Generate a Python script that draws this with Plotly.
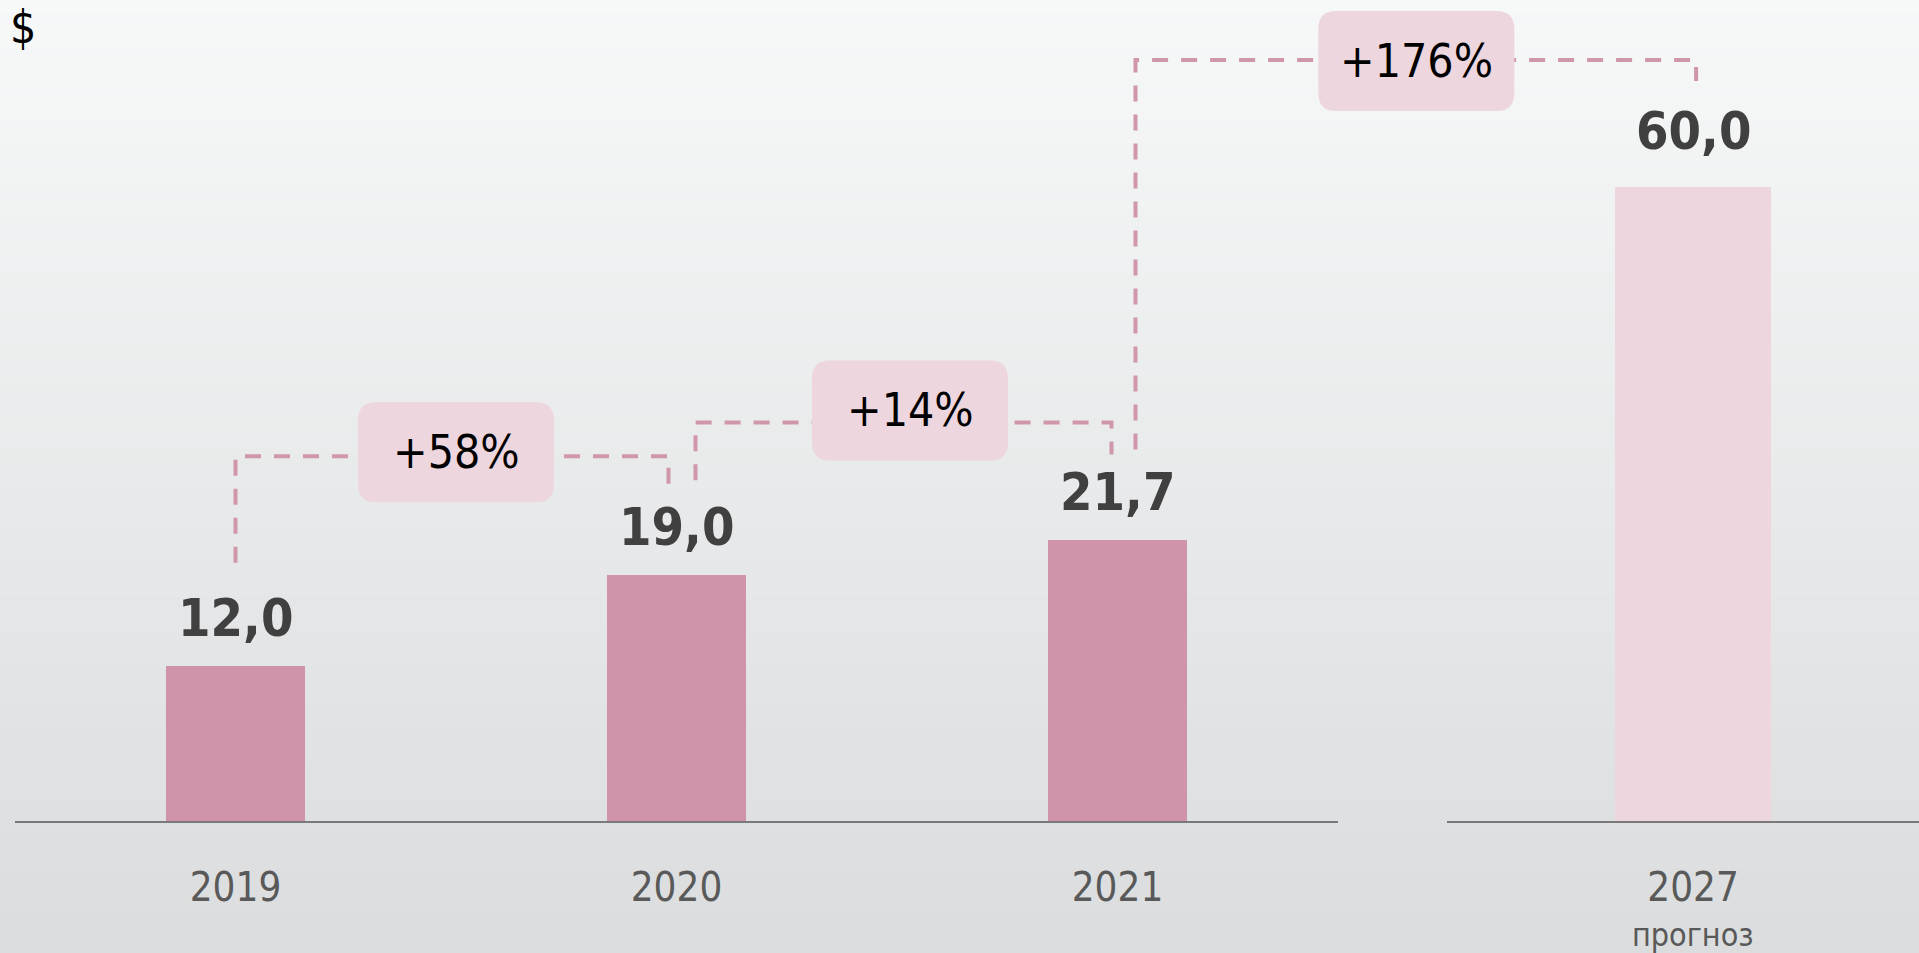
import plotly.graph_objects as go

# ---------------- data ----------------
years_hist = ["2019", "2020", "2021"]
values_hist = [12.0, 19.0, 21.7]
years_fcst = ["2027"]
values_fcst = [60.0]
value_labels_hist = ["12,0", "19,0", "21,7"]
value_labels_fcst = ["60,0"]
growth_labels = ["+58%", "+14%", "+176%"]
forecast_note = "прогноз"
currency_sign = "$"

# ---------------- styling / geometry ----------------
W, H = 1919, 953
FONT = "Noto Sans ExtraCondensed, Noto Sans Condensed, DejaVu Sans Condensed, sans-serif"
BAR_DARK = "#cf94a9"
BAR_LIGHT = "#eed6de"
BOX_FILL = "#edd6de"
DASH_COLOR = "#d096aa"
LABEL_COLOR = "#404040"
TICK_COLOR = "#595959"

base_px = 821                      # pixel row of the baseline
plot_h = base_px                   # plot area from top of page to baseline
xL = (15, 1338)                    # left subplot pixel span
xR = (1447, 1919)                  # right subplot pixel span
rangeL = [-0.5, len(years_hist) - 0.5]
rangeR = [-0.5, 0.459]
yL_max = 63.5
yR_max = 77.7

def bar_top_px(v, ymax):
    return base_px - v / ymax * plot_h

def cat_px(span, rng, i):
    return span[0] + (i - rng[0]) / (rng[1] - rng[0]) * (span[1] - span[0])

fig = go.Figure()

fig.add_trace(go.Bar(
    x=years_hist, y=values_hist, width=0.315,
    marker=dict(color=BAR_DARK, line=dict(width=0)),
    xaxis="x", yaxis="y", hoverinfo="skip", showlegend=False))
fig.add_trace(go.Bar(
    x=years_fcst, y=values_fcst, width=0.317,
    marker=dict(color=BAR_LIGHT, line=dict(width=0)),
    xaxis="x2", yaxis="y2", hoverinfo="skip", showlegend=False))

shapes = []
# background gradient
n_bands = 80
top_c = (247, 248, 248)
bot_c = (218, 220, 222)
for k in range(n_bands):
    t = (k + 0.5) / n_bands
    c = tuple(round(top_c[j] + (bot_c[j] - top_c[j]) * t) for j in range(3))
    shapes.append(dict(type="rect", xref="paper", yref="paper",
                       x0=0, x1=1, y0=1 - (k + 1) / n_bands - 0.001, y1=1 - k / n_bands,
                       fillcolor="rgb(%d,%d,%d)" % c, line=dict(width=0), layer="below"))

annotations = []
# value labels (category index positions on each axis)
for i, (v, lab) in enumerate(zip(values_hist, value_labels_hist)):
    annotations.append(dict(x=i, y=v, xref="x", yref="y", text="<b>%s</b>" % lab,
                            showarrow=False, yanchor="bottom", yshift=16,
                            font=dict(family=FONT, size=52, color=LABEL_COLOR)))
for i, (v, lab) in enumerate(zip(values_fcst, value_labels_fcst)):
    annotations.append(dict(x=i, y=v, xref="x2", yref="y2", text="<b>%s</b>" % lab,
                            showarrow=False, yanchor="bottom", yshift=24,
                            font=dict(family=FONT, size=52, color=LABEL_COLOR)))

# connectors & growth boxes (pixel geometry derived from data positions)
centers = [cat_px(xL, rangeL, i) for i in range(len(years_hist))] + \
          [cat_px(xR, rangeR, i) for i in range(len(years_fcst))]
tops = [bar_top_px(v, yL_max) for v in values_hist] + [bar_top_px(v, yR_max) for v in values_fcst]
label_off = [78, 79, 78, 87]
label_tops = [t - o for t, o in zip(tops, label_off)]
sx = [0, 19, 18]
sgap = [25, 16, 13]
ex = [-8, -6, 3]
egap = [9, 8, 19]
bx = [0, 13, 11]
by = [-4, -12, 1]
BW, BH, R = 196, 100, 18

def px(xp):
    return xp / W

def py(yp):
    return 1 - yp / H

for i, g in enumerate(growth_labels):
    x0 = centers[i] + sx[i]
    y0 = label_tops[i] - sgap[i]
    lvl = min(label_tops[i], label_tops[i + 1]) - 40
    x1 = centers[i + 1] + ex[i]
    y1 = label_tops[i + 1] - egap[i]
    path = "M %f,%f L %f,%f L %f,%f L %f,%f" % (px(x0), py(y0), px(x0), py(lvl),
                                                px(x1), py(lvl), px(x1), py(y1))
    shapes.append(dict(type="path", xref="paper", yref="paper", path=path,
                       line=dict(color=DASH_COLOR, width=4, dash="16px,13px"), layer="above"))
    cx = (centers[i] + centers[i + 1]) / 2 + bx[i]
    cy = lvl + by[i]
    l, r, t, b = cx - BW / 2, cx + BW / 2, cy - BH / 2, cy + BH / 2
    p = ("M %f,%f L %f,%f Q %f,%f %f,%f L %f,%f Q %f,%f %f,%f "
         "L %f,%f Q %f,%f %f,%f L %f,%f Q %f,%f %f,%f Z") % (
        px(l + R), py(t), px(r - R), py(t), px(r), py(t), px(r), py(t + R),
        px(r), py(b - R), px(r), py(b), px(r - R), py(b),
        px(l + R), py(b), px(l), py(b), px(l), py(b - R),
        px(l), py(t + R), px(l), py(t), px(l + R), py(t))
    shapes.append(dict(type="path", xref="paper", yref="paper", path=p,
                       fillcolor=BOX_FILL, line=dict(width=0), layer="above"))
    annotations.append(dict(x=px(cx), y=py(cy), xref="paper", yref="paper", text=g,
                            showarrow=False, xanchor="center", yanchor="middle",
                            font=dict(family=FONT, size=46, color="#000000")))

# forecast note and currency sign
annotations.append(dict(x=0, y=0, xref="x2", yref="paper", text=forecast_note,
                        showarrow=False, yanchor="bottom", yshift=-3,
                        font=dict(family=FONT, size=32, color=TICK_COLOR)))
annotations.append(dict(x=0.0, y=1, xref="paper", yref="paper", text=currency_sign,
                        showarrow=False, xanchor="left", yanchor="top", xshift=8, yshift=2,
                        font=dict(family=FONT, size=46, color="#000000")))

axis_common = dict(type="category", showline=True, linecolor="#7a7a7a", linewidth=2,
                   showgrid=False, zeroline=False, ticks="", ticklabelstandoff=30,
                   fixedrange=True, automargin=False,
                   tickfont=dict(family=FONT, size=40, color=TICK_COLOR))

fig.update_layout(
    width=W, height=H,
    margin=dict(l=0, r=0, t=0, b=0, autoexpand=False),
    paper_bgcolor="rgb(218,220,222)",
    plot_bgcolor="rgba(0,0,0,0)",
    shapes=shapes, annotations=annotations,
    xaxis=dict(domain=[xL[0] / W, xL[1] / W], range=rangeL, anchor="y", **axis_common),
    xaxis2=dict(domain=[xR[0] / W, 1], range=rangeR, anchor="y2", **axis_common),
    yaxis=dict(domain=[1 - base_px / H, 1], range=[0, yL_max], visible=False, fixedrange=True),
    yaxis2=dict(domain=[1 - base_px / H, 1], range=[0, yR_max], visible=False,
                fixedrange=True, anchor="x2"),
    bargap=0,
)

fig.write_html("out.html", config={"displayModeBar": False},
               post_script="document.body.style.margin='0';document.body.style.overflow='hidden';")
